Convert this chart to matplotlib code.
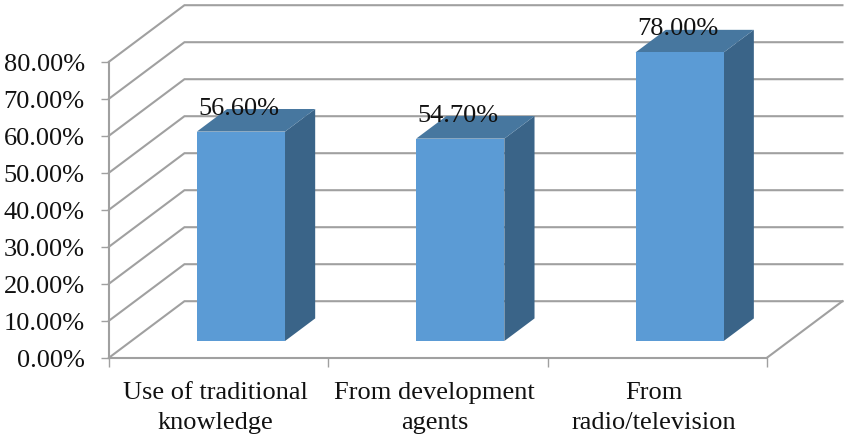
import matplotlib
matplotlib.use("Agg")
import matplotlib.pyplot as plt
from matplotlib.patches import Polygon

categories = ["Use of traditional\nknowledge", "From development\nagents", "From\nradio/television"]
values = [56.6, 54.7, 78.0]
value_labels = ["56.60%", "54.70%", "78.00%"]
y_ticks = [0, 10, 20, 30, 40, 50, 60, 70, 80]
y_tick_labels = ["0.00%", "10.00%", "20.00%", "30.00%", "40.00%", "50.00%", "60.00%", "70.00%", "80.00%"]

GRID = "#a0a0a0"
FRONT = "#5b9bd5"
TOP = "#47779f"
SIDE = "#3a6488"
FONT = "Liberation Serif"
FONT_SIZE = 19.0

W, H = 844, 435
fig = plt.figure(figsize=(W / 100, H / 100), dpi=100)
ax = fig.add_axes([109 / W, (H - 358.7) / H, (767 - 109) / W, (358.7 - 62.7) / H])
ax.set_xlim(0, 3)
ax.set_ylim(0, 80)

# Oblique projection of the chart's depth axis (depth 1 = back wall)
SHEAR_X = 75.5 / 219.5
SHEAR_Y = 56.5 / 3.7


def project(x, v, depth):
    return x + depth * SHEAR_X, v + depth * SHEAR_Y


# Wall and floor gridlines
for tick in y_ticks:
    pts = [project(0, tick, 0), project(0, tick, 1), project(3, tick, 1)]
    ax.plot(*zip(*pts), color=GRID, lw=1.5, clip_on=False, zorder=1, solid_joinstyle="miter")
ax.plot(*zip(project(3, 0, 0), project(3, 0, 1)), color=GRID, lw=1.5, clip_on=False, zorder=1)

# 3-D columns
BAR_W = 0.402
D0, D1 = 0.295, 0.695
for i, val in enumerate(values):
    x0 = i + 0.5 - BAR_W / 2
    x1 = i + 0.5 + BAR_W / 2
    front = [project(x0, 0, D0), project(x1, 0, D0), project(x1, val, D0), project(x0, val, D0)]
    top = [project(x0, val, D0), project(x1, val, D0), project(x1, val, D1), project(x0, val, D1)]
    side = [project(x1, 0, D0), project(x1, 0, D1), project(x1, val, D1), project(x1, val, D0)]
    for pts, col in ((side, SIDE), (top, TOP), (front, FRONT)):
        ax.add_patch(Polygon(pts, closed=True, facecolor=col, edgecolor="none", clip_on=False, zorder=3))
    cx, cy = project(i + 0.5, val, D1)
    ax.annotate(value_labels[i], xy=(cx, cy), xytext=(-32, 1.5), textcoords="offset pixels",
                ha="center", va="center", fontsize=FONT_SIZE, family=FONT, color="#111111",
                annotation_clip=False, zorder=5)

# Axes frame and ticks
for side_name in ("top", "right"):
    ax.spines[side_name].set_visible(False)
for side_name in ("left", "bottom"):
    ax.spines[side_name].set_color(GRID)
    ax.spines[side_name].set_linewidth(1.5)
ax.patch.set_visible(False)
ax.set_yticks(y_ticks)
ax.set_yticklabels(y_tick_labels, fontsize=FONT_SIZE, family=FONT, color="#111111")
ax.set_xticks([0, 1, 2, 3])
ax.set_xticklabels([])
ax.tick_params(axis="y", length=5.5, width=1.0, color=GRID, pad=12)
ax.tick_params(axis="x", length=6.5, width=1.0, color=GRID)

for i, label in enumerate(categories):
    ax.annotate(label, xy=(i + 0.5, 0), xytext=(-3.5, -23), textcoords="offset pixels",
                ha="center", va="top", fontsize=FONT_SIZE, family=FONT, color="#111111",
                linespacing=1.46, annotation_clip=False)

fig.savefig("out.png", dpi=100, facecolor="white")
